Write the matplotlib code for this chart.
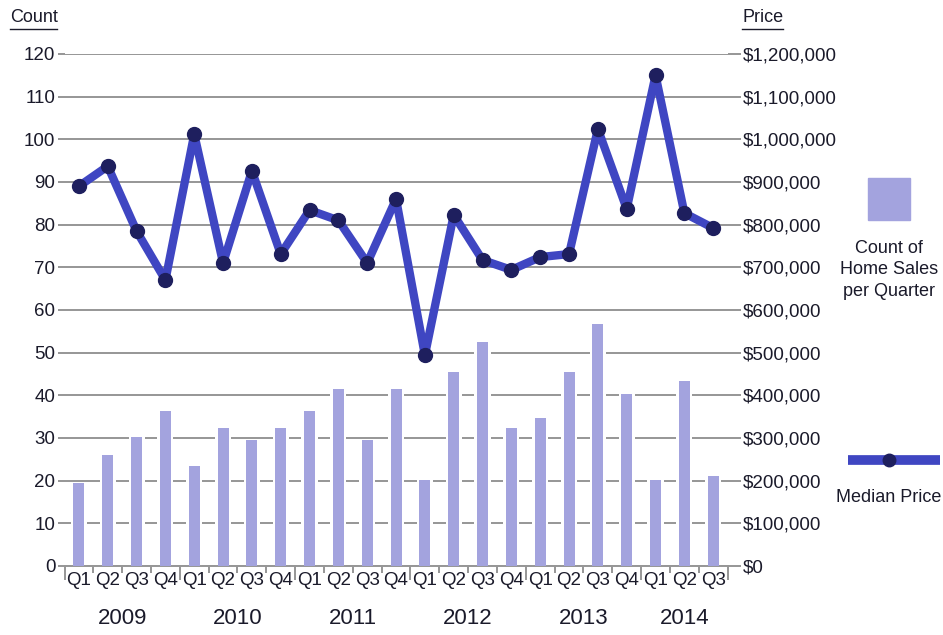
import matplotlib
matplotlib.use("Agg")
import matplotlib.pyplot as plt
from matplotlib import font_manager
from matplotlib.transforms import blended_transform_factory
from matplotlib.patches import Rectangle
from matplotlib.lines import Line2D

names = {f.name for f in font_manager.fontManager.ttflist}
FONT = "Liberation Sans Narrow" if "Liberation Sans Narrow" in names else "Liberation Sans"
plt.rcParams['font.family'] = [FONT, 'DejaVu Sans']

quarters = ["Q1", "Q2", "Q3", "Q4"] * 5 + ["Q1", "Q2", "Q3"]
years = ["2009", "2010", "2011", "2012", "2013", "2014"]
year_sizes = [4, 4, 4, 4, 4, 3]
counts = [19.5, 26, 30.2, 36.3, 23.4, 32.3, 29.5, 32.3, 36.3, 41.5, 29.5, 41.5,
          20.2, 45.5, 52.5, 32.3, 34.7, 45.5, 56.7, 40.3, 20.2, 43.4, 21]
prices = [890000, 937000, 785000, 670000, 1012000, 710000, 926000, 731000,
          834000, 810000, 710000, 860000, 494000, 823000, 717000, 694000,
          724000, 731000, 1024000, 837000, 1150000, 827000, 792000]

BAR = "#a3a3de"
LINE = "#3f46c2"
MARK = "#1e1f5e"
GRID = "#969696"
TXT = "#1a1a2a"

fig = plt.figure(figsize=(9.43, 6.35), dpi=100)
ax = fig.add_axes([0.0684, 0.1087, 0.7032, 0.8063])
x = list(range(len(counts)))

ax.set_xlim(-0.5, len(counts) - 0.5)
ax.set_ylim(0, 120)
ax.set_yticks(range(0, 121, 10))
ax.grid(axis='y', color=GRID, lw=1.4, zorder=0)
ax.set_axisbelow(True)
ax.bar(x, counts, width=0.56, color='white', zorder=2)
ax.bar(x, counts, width=0.38, color=BAR, zorder=3)
for s in ['top', 'left', 'right']:
    ax.spines[s].set_visible(False)
ax.spines['bottom'].set_color(GRID)
ax.spines['bottom'].set_linewidth(1.4)
ax.tick_params(axis='y', length=5, width=1.4, color=GRID, labelsize=13.5,
               labelcolor=TXT, pad=1.5)

# x ticks: quarter boundaries (minor) and year boundaries (major)
bounds = [i - 0.5 for i in range(len(counts) + 1)]
ybounds = [-0.5]
for n in year_sizes:
    ybounds.append(ybounds[-1] + n)
ax.set_xticks(ybounds)
ax.set_xticks(bounds, minor=True)
ax.tick_params(axis='x', which='major', length=10, width=1.4, color=GRID, labelbottom=False)
ax.tick_params(axis='x', which='minor', length=5, width=1.4, color=GRID, labelbottom=False)

tr = blended_transform_factory(ax.transData, ax.transAxes)
for i, q in enumerate(quarters):
    ax.text(i, -0.011, q, transform=tr, ha='center', va='top', fontsize=13.5, color=TXT)
start = 0
for yname, n in zip(years, year_sizes):
    ax.text(start + (n - 1) / 2, -0.082, yname, transform=tr, ha='center', va='top',
            fontsize=16, color=TXT)
    start += n

ax2 = ax.twinx()
ax2.set_ylim(0, 1200000)
ax2.set_yticks(range(0, 1200001, 100000))
ax2.set_yticklabels(["${:,}".format(v) for v in range(0, 1200001, 100000)])
for s in ['top', 'left', 'right', 'bottom']:
    ax2.spines[s].set_visible(False)
ax2.tick_params(axis='y', length=9, width=1.4, color=GRID, labelsize=13.5,
                labelcolor=TXT, pad=2)
ax2.plot(x, prices, color=LINE, lw=6, marker='o', markersize=10,
         markerfacecolor=MARK, markeredgecolor=MARK, solid_joinstyle='round',
         solid_capstyle='round', zorder=5)

# axis titles
fig.text(10 / 943, 1 - 18 / 635, "Count", fontsize=13, color=TXT, va='center', ha='left')
fig.add_artist(Line2D([10 / 943, 57 / 943], [1 - 29 / 635] * 2, color=TXT, lw=1))
fig.text(742 / 943, 1 - 18 / 635, "Price", fontsize=13, color=TXT, va='center', ha='left')
fig.add_artist(Line2D([742 / 943, 783 / 943], [1 - 29 / 635] * 2, color=TXT, lw=1))

# legend
fig.add_artist(Rectangle((868 / 943, 1 - 220 / 635), 42 / 943, 42 / 635,
                         transform=fig.transFigure, color=BAR))
fig.text(889 / 943, 1 - 270 / 635, "Count of\nHome Sales\nper Quarter", fontsize=13,
         color=TXT, ha='center', va='center', linespacing=1.35)
fig.add_artist(Line2D([848 / 943, 940 / 943], [1 - 460 / 635] * 2, color=LINE, lw=7,
                      solid_capstyle='butt'))
fig.add_artist(Line2D([889 / 943], [1 - 460 / 635], marker='o', markersize=9,
                      color=MARK, transform=fig.transFigure))
fig.text(889 / 943, 1 - 497 / 635, "Median Price", fontsize=13, color=TXT,
         ha='center', va='center')

fig.savefig("out.png", dpi=100)
